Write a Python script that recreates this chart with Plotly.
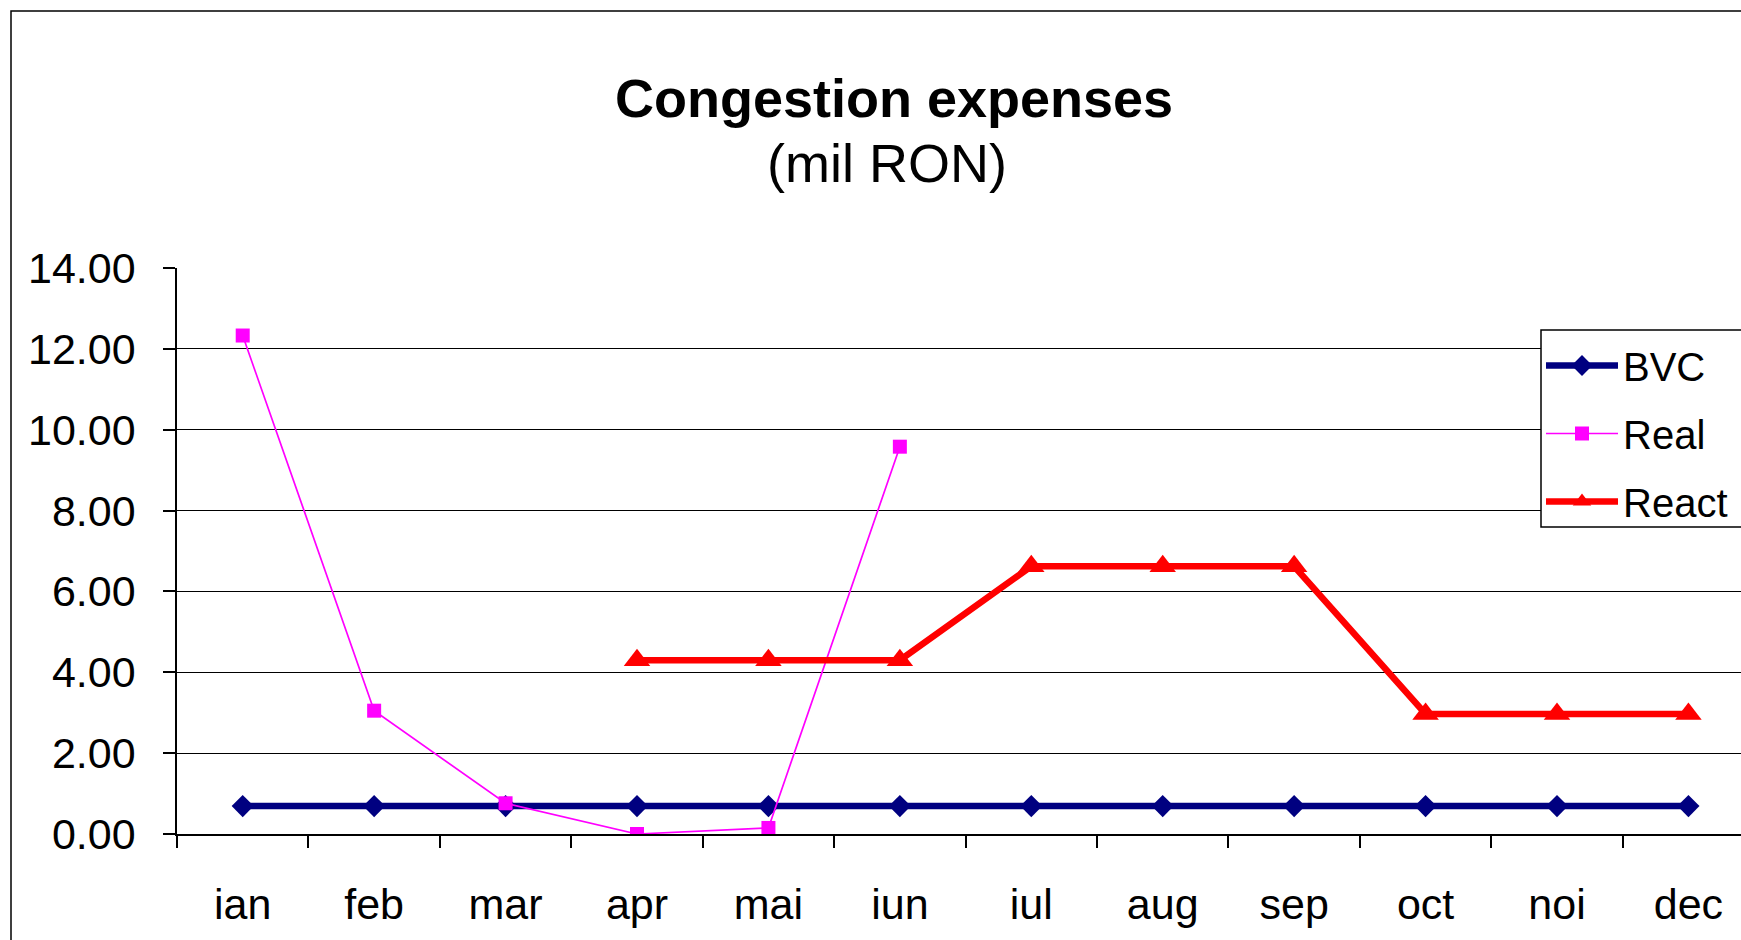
import plotly.graph_objects as go

months = ["ian", "feb", "mar", "apr", "mai", "iun", "iul", "aug", "sep", "oct", "noi", "dec"]
bvc = [0.69, 0.69, 0.69, 0.69, 0.69, 0.69, 0.69, 0.69, 0.69, 0.69, 0.69, 0.69]
real = [12.33, 3.05, 0.76, 0.0, 0.15, 9.58, None, None, None, None, None, None]
react = [None, None, None, 4.30, 4.30, 4.30, 6.62, 6.62, 6.62, 2.97, 2.97, 2.97]
y_ticks = [0, 2, 4, 6, 8, 10, 12, 14]

W, H = 1741, 940
L, R, T, B = 177, 0, 268, 106
pw, ph = W - L - R, H - T - B

def px(x):
    return (x - L) / pw

def py(y):
    return (H - B - y) / ph

FONT = "Liberation Sans, Arial, sans-serif"

fig = go.Figure()
fig.add_trace(go.Scatter(
    x=months, y=bvc, name="BVC", mode="lines+markers", legendgroup="a",
    line=dict(color="#000080", width=6.5),
    marker=dict(symbol="diamond", size=17, color="#000080"),
))
fig.add_trace(go.Scatter(
    x=months, y=real, name="Real", mode="lines+markers", legendgroup="b",
    line=dict(color="#FF00FF", width=1.7),
    marker=dict(symbol="square", size=14, color="#FF00FF"),
))
fig.add_trace(go.Scatter(
    x=months, y=react, name="React", mode="lines+markers", legendgroup="c",
    line=dict(color="#FF0000", width=6.5),
    marker=dict(symbol="triangle-up", size=23, color="#FF0000"),
))

fig.update_layout(
    width=W, height=H, autosize=False,
    margin=dict(l=L, r=R, t=T, b=B, pad=0, autoexpand=False),
    paper_bgcolor="white", plot_bgcolor="white",
    font=dict(family=FONT, size=43, color="black"),
    showlegend=True,
    legend=dict(
        x=px(1541), y=py(333), xanchor="left", yanchor="top",
        borderwidth=0, bgcolor="rgba(0,0,0,0)",
        font=dict(size=40), itemwidth=72, tracegroupgap=13,
        traceorder="grouped",
    ),
    annotations=[
        dict(text="<b>Congestion expenses</b>", xref="paper", yref="paper",
             x=px(894), y=py(98), xanchor="center", yanchor="middle",
             showarrow=False, font=dict(size=54, family=FONT)),
        dict(text="(mil RON)", xref="paper", yref="paper",
             x=px(887), y=py(163), xanchor="center", yanchor="middle",
             showarrow=False, font=dict(size=54, family=FONT)),
    ],
    shapes=[
        dict(type="rect", xref="paper", yref="paper",
             x0=px(11), x1=px(W + 50), y0=py(H + 50), y1=py(11),
             line=dict(color="black", width=1.5), layer="below"),
        dict(type="rect", xref="paper", yref="paper",
             x0=px(1541), x1=px(W + 50), y0=py(527), y1=py(330),
             line=dict(color="black", width=1.5), fillcolor="white", layer="above"),
    ],
)

fig.update_xaxes(
    type="category", categoryorder="array", categoryarray=months,
    range=[-0.5, 11.4], showgrid=False, showline=True, linecolor="black", linewidth=1.5,
    ticks="outside", tickson="boundaries", ticklen=12, tickwidth=1.5, tickcolor="black",
    ticklabelstandoff=32, zeroline=False,
)
fig.update_yaxes(
    range=[0, 14], tickvals=y_ticks, tickformat=".2f",
    showgrid=True, gridcolor="black", gridwidth=1.3,
    showline=True, linecolor="black", linewidth=1.5,
    ticks="outside", ticklen=12, tickwidth=1.5, tickcolor="black",
    ticklabelstandoff=19, zeroline=False,
)

fig.write_html("out.html", config={"displayModeBar": False},
               post_script="document.body.style.margin='0';")
